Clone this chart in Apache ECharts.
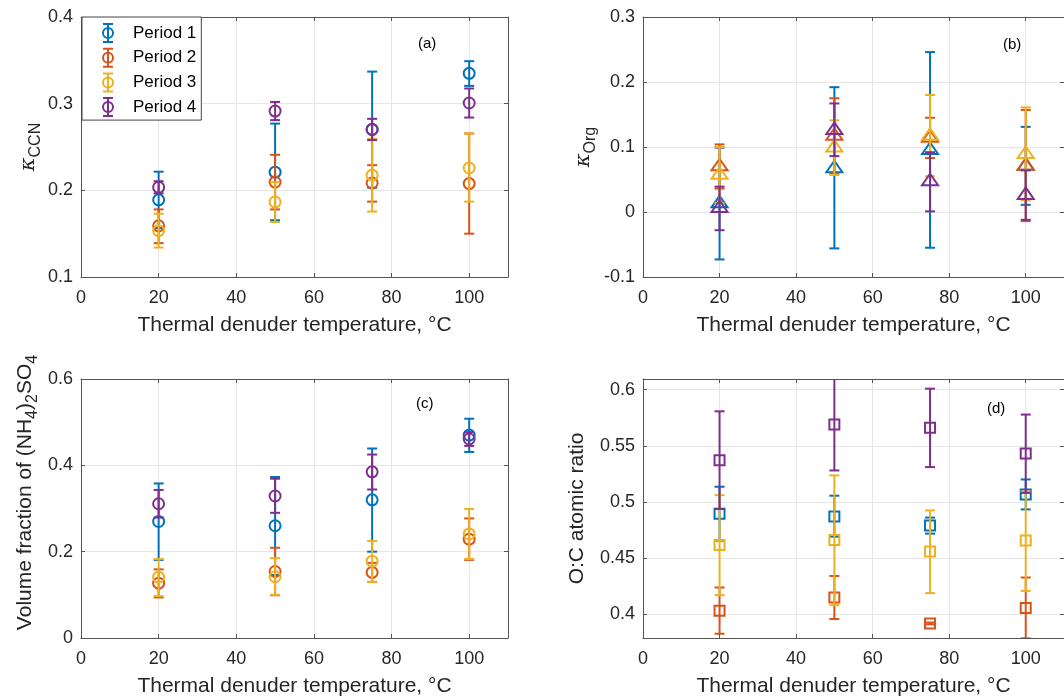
<!DOCTYPE html>
<html>
<head>
<meta charset="utf-8">
<script src="https://cdn.jsdelivr.net/npm/echarts@6/dist/echarts.min.js"></script>
<style>
  html, body { margin: 0; padding: 0; background: #fff; }
  #chart { width: 1064px; height: 698px; }
</style>
</head>
<body>
<div id="chart"></div>
<script>
// temperatures of the thermal denuder
const temps = [20, 50, 75, 100];
const periods = ["Period 1", "Period 2", "Period 3", "Period 4"];
const xTicks = [0, 20, 40, 60, 80, 100];

// (a) kappa CCN  -- rows are periods 1..4, columns are temps
const kccnMean = [
  [0.189, 0.221, 0.270, 0.335],
  [0.159, 0.2095, 0.2085, 0.2078],
  [0.1535, 0.1865, 0.2175, 0.2258],
  [0.2035, 0.2915, 0.2705, 0.3008],
];
const kccnLow = [
  [0.1565, 0.1655, 0.203, 0.3205],
  [0.139, 0.178, 0.187, 0.150],
  [0.134, 0.1635, 0.1755, 0.187],
  [0.1965, 0.281, 0.258, 0.284],
];
const kccnHigh = [
  [0.2215, 0.277, 0.337, 0.349],
  [0.178, 0.241, 0.229, 0.2656],
  [0.173, 0.2095, 0.2595, 0.2655],
  [0.2105, 0.302, 0.2825, 0.3175],
];

// (b) kappa Org
const korgMean = [
  [0.013, 0.067, 0.095, 0.071],
  [0.070, 0.117, 0.114, 0.071],
  [0.057, 0.099, 0.117, 0.089],
  [0.006, 0.126, 0.047, 0.026],
];
const korgLow = [
  [-0.073, -0.056, -0.055, 0.011],
  [0.036, 0.059, 0.083, -0.014],
  [0.014, 0.057, 0.055, 0.018],
  [-0.028, 0.086, 0.001, -0.012],
];
const korgHigh = [
  [0.099, 0.192, 0.246, 0.131],
  [0.104, 0.175, 0.145, 0.157],
  [0.100, 0.141, 0.180, 0.161],
  [0.039, 0.167, 0.092, 0.064],
];

// (c) volume fraction of (NH4)2SO4
const asMean = [
  [0.270, 0.260, 0.320, 0.470],
  [0.127, 0.154, 0.152, 0.229],
  [0.141, 0.142, 0.178, 0.241],
  [0.311, 0.329, 0.385, 0.461],
];
const asLow = [
  [0.181, 0.146, 0.200, 0.431],
  [0.094, 0.099, 0.130, 0.181],
  [0.097, 0.100, 0.130, 0.183],
  [0.279, 0.290, 0.344, 0.445],
];
const asHigh = [
  [0.358, 0.373, 0.439, 0.508],
  [0.159, 0.209, 0.174, 0.277],
  [0.183, 0.185, 0.225, 0.299],
  [0.343, 0.369, 0.425, 0.477],
];

// (d) O:C atomic ratio
const ocMean = [
  [0.4895, 0.487, 0.479, 0.5065],
  [0.403, 0.4148, 0.3917, 0.4055],
  [0.4615, 0.466, 0.4557, 0.4655],
  [0.5372, 0.5689, 0.566, 0.5431],
];
const ocLow = [
  [0.4655, 0.469, 0.4717, 0.4933],
  [0.3825, 0.3956, 0.3909, 0.3784],
  [0.4169, 0.408, 0.4187, 0.4207],
  [0.4937, 0.528, 0.531, 0.508],
];
const ocHigh = [
  [0.5135, 0.5055, 0.486, 0.52],
  [0.4237, 0.434, 0.3925, 0.4326],
  [0.506, 0.5236, 0.4924, 0.5093],
  [0.5807, 0.61, 0.6009, 0.5778],
];
const ocTicks = [0.4, 0.45, 0.5, 0.55, 0.6];

const colors = ["#0072BD", "#D95319", "#EDB120", "#7E2F8E"];
const FONT = "'Liberation Sans', Arial, sans-serif";
const TXT = "#262626";

const panels = [
  {tag: "(a)", mean: kccnMean, low: kccnLow, high: kccnHigh, shape: "circle",
    grid: {left: 81, top: 17}, y: {min: 0.1, max: 0.4, interval: 0.1},
    yName: "{k|κ}{s|CCN}", yGap: 37, yPad: [0, 0, 0, 0], tagPos: [418, 36]},
  {tag: "(b)", mean: korgMean, low: korgLow, high: korgHigh, shape: "triangle",
    grid: {left: 643, top: 17}, y: {min: -0.1, max: 0.3, interval: 0.1},
    yName: "{k|κ}{s|Org}", yGap: 44, yPad: [0, 0, 0, 0], tagPos: [1003, 37]},
  {tag: "(c)", mean: asMean, low: asLow, high: asHigh, shape: "circle",
    grid: {left: 81, top: 379}, y: {min: 0, max: 0.6, interval: 0.2},
    yName: "{t|Volume fraction of (NH}{s|4}{t|)}{s|2}{t|SO}{s|4}", yGap: 40, yPad: [0, 0, 0, 32], tagPos: [416, 396]},
  {tag: "(d)", mean: ocMean, low: ocLow, high: ocHigh, shape: "square",
    grid: {left: 643, top: 379}, y: {min: 0.3787, max: 0.6095, custom: ocTicks},
    yName: "{t|O:C atomic ratio}", yGap: 50, yPad: [0, 0, 0, 0], tagPos: [987, 401]},
];

const nameRich = {
  k: {fontSize: 21, fontFamily: "'DejaVu Serif', serif", fontStyle: "italic", color: TXT, lineHeight: 26, verticalAlign: "top"},
  t: {fontSize: 21, fontFamily: FONT, color: TXT, lineHeight: 26, verticalAlign: "top"},
  s: {fontSize: 16, fontFamily: FONT, color: TXT, lineHeight: 16, verticalAlign: "bottom"},
};

function markerShape(shape, p, st) {
  if (shape === "circle") {
    return {type: "circle", shape: {cx: p[0], cy: p[1], r: 5.5}, style: st};
  }
  if (shape === "square") {
    return {type: "rect", shape: {x: p[0] - 5, y: p[1] - 5, width: 10, height: 10}, style: st};
  }
  return {type: "polygon", shape: {points: [[p[0], p[1] - 7.7], [p[0] + 8, p[1] + 3.8], [p[0] - 8, p[1] + 3.8]]}, style: st};
}

function errorBarItem(shape, color) {
  return function (params, api) {
    const x = api.value(0);
    const p = api.coord([x, api.value(1)]);
    const lo = api.coord([x, api.value(2)]);
    const hi = api.coord([x, api.value(3)]);
    const cw = 5;
    const st = {stroke: color, lineWidth: 2, fill: "none"};
    return {
      type: "group",
      children: [
        {type: "line", shape: {x1: p[0], y1: lo[1], x2: p[0], y2: hi[1]}, style: st},
        {type: "line", shape: {x1: p[0] - cw, y1: lo[1], x2: p[0] + cw, y2: lo[1]}, style: st},
        {type: "line", shape: {x1: p[0] - cw, y1: hi[1], x2: p[0] + cw, y2: hi[1]}, style: st},
        markerShape(shape, p, st),
      ],
    };
  };
}

const axisLine = {show: true, onZero: false, lineStyle: {color: "#555", width: 1}};
const tick = {show: true, inside: true, length: 4, lineStyle: {color: "#555"}};
const labelStyle = {fontSize: 18, fontFamily: FONT, color: TXT};

const grids = [], xAxes = [], yAxes = [], series = [], graphics = [];

panels.forEach((pn, gi) => {
  grids.push({left: pn.grid.left, top: pn.grid.top, width: 427, height: 260});
  // bottom + top x axes
  xAxes.push({
    gridIndex: gi, type: "value", min: 0, max: 110, interval: 20, position: "bottom",
    axisLine, axisTick: tick,
    axisLabel: Object.assign({margin: 12, customValues: xTicks}, labelStyle),
    splitLine: {show: true, lineStyle: {color: "#e6e6e6", width: 1}},
    name: "Thermal denuder temperature, °C", nameLocation: "middle", nameGap: 38,
    nameTextStyle: {fontSize: 21, fontFamily: FONT, color: TXT},
  });
  xAxes.push({
    gridIndex: gi, type: "value", min: 0, max: 110, interval: 20, position: "top",
    axisLine, axisTick: tick, axisLabel: {show: false}, splitLine: {show: false},
  });
  const yl = {
    gridIndex: gi, type: "value", min: pn.y.min, max: pn.y.max, position: "left",
    axisLine, axisTick: tick,
    axisLabel: Object.assign({margin: 8}, labelStyle),
    splitLine: {show: true, lineStyle: {color: "#e6e6e6", width: 1}},
    name: pn.yName, nameLocation: "middle", nameGap: pn.yGap,
    nameTextStyle: {rich: nameRich, padding: pn.yPad},
  };
  const yr = {
    gridIndex: gi, type: "value", min: pn.y.min, max: pn.y.max, position: "right",
    axisLine, axisTick: tick, axisLabel: {show: false}, splitLine: {show: false},
  };
  if (pn.y.custom) {
    yl.axisLabel.customValues = pn.y.custom;
    yl.axisTick = Object.assign({customValues: pn.y.custom}, tick);
    yr.axisTick = Object.assign({customValues: pn.y.custom}, tick);
  } else {
    yl.interval = pn.y.interval;
    yr.interval = pn.y.interval;
  }
  yAxes.push(yl, yr);

  periods.forEach((name, k) => {
    series.push({
      type: "custom", name, xAxisIndex: gi * 2, yAxisIndex: gi * 2, clip: true,
      itemStyle: {color: colors[k]},
      encode: {x: 0, y: [1, 2, 3]},
      data: temps.map((t, i) => [t, pn.mean[k][i], pn.low[k][i], pn.high[k][i]]),
      renderItem: errorBarItem(pn.shape, colors[k]),
      z: 10 + k,
    });
  });

  graphics.push({
    type: "text", left: pn.tagPos[0], top: pn.tagPos[1], z: 100,
    style: {text: pn.tag, fontSize: 15, fontFamily: FONT, fill: "#000"},
  });
});

const legendIcon = "path://M0,0 L10,0 M5,0 L5,18 M0,18 L10,18 M10,9 A5,5 0 1 1 0,9 A5,5 0 1 1 10,9 Z";

const option = {
  animation: false,
  backgroundColor: "#fff",
  grid: grids,
  xAxis: xAxes,
  yAxis: yAxes,
  legend: {
    left: 82, top: 17, orient: "vertical",
    padding: [6, 5, 3, 20], itemGap: 4.7, itemWidth: 10, itemHeight: 18,
    backgroundColor: "#fff", borderColor: "#444", borderWidth: 1, borderRadius: 0,
    textStyle: {fontSize: 17, fontFamily: FONT, color: "#000", lineHeight: 18, padding: [0, 0, 0, 15]},
    data: periods.map((name, k) => ({
      name, icon: legendIcon,
      itemStyle: {color: "transparent", borderColor: colors[k], borderWidth: 2},
    })),
    selectedMode: false,
  },
  graphic: graphics,
  series,
};

const chart = echarts.init(document.getElementById("chart"));
chart.setOption(option);
</script>
</body>
</html>
